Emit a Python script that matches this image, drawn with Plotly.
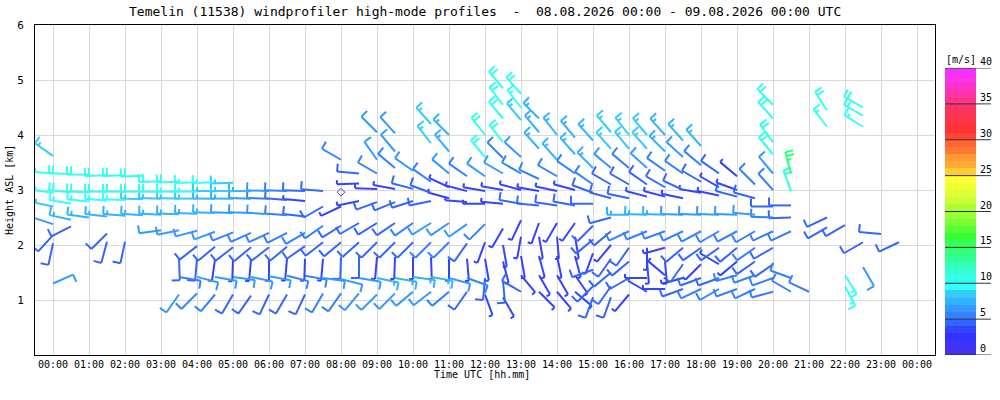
"""Temelin windprofiler high-mode profiles: wind barbs over time/height."""
import math
import plotly.graph_objects as go

TITLE = "Temelin (11538) windprofiler high-mode profiles  -  08.08.2026 00:00 - 09.08.2026 00:00 UTC"

HOUR_TICKS = list(range(25))
HOUR_LABELS = [f"{h % 24:02d}:00" for h in HOUR_TICKS]
HEIGHT_TICKS = [1, 2, 3, 4, 5, 6]
SPEED_TICKS = [0, 5, 10, 15, 20, 25, 30, 35, 40]

# profiles every 30 min: (height km ASL, direction deg, speed m/s)
P_0000 = [(3.62, 305, 8), (3.30, 275, 9), (2.95, 278, 9), (2.70, 282, 8), (2.38, 288, 6),
          (2.18, 222, 4), (2.03, 192, 4), (1.30, 66, 6)]
P_0030 = [(3.29, 272, 10), (2.96, 275, 10), (2.75, 280, 9), (2.46, 282, 7), (2.34, 243, 4)]
P_0100 = [(3.28, 270, 10), (2.96, 272, 10), (2.79, 276, 9), (2.50, 278, 7)]
P_0130 = [(3.27, 268, 10), (2.97, 270, 10), (2.81, 274, 9), (2.52, 276, 7), (2.21, 225, 4), (2.06, 195, 4)]
P_0200 = [(3.27, 268, 10), (2.97, 270, 10), (2.82, 272, 9), (2.53, 275, 7), (2.06, 192, 4)]
P_0230 = [(3.26, 268, 10), (2.97, 270, 10), (2.83, 272, 8), (2.54, 274, 7)]
P_0300 = [(3.16, 268, 10), (2.97, 270, 10), (2.84, 272, 8), (2.55, 273, 7), (2.27, 262, 6)]
P_0330 = [(3.15, 268, 10), (2.97, 270, 9), (2.84, 272, 8), (2.56, 272, 7), (2.27, 258, 6),
          (1.76, 178, 4), (1.42, 100, 5), (1.10, 215, 6)]
P_0400 = [(3.14, 268, 9), (2.97, 270, 9), (2.84, 271, 8), (2.57, 272, 7), (2.26, 255, 6),
          (1.98, 232, 4), (1.75, 185, 4), (1.42, 105, 6), (1.12, 225, 5)]
P_0430 = [(3.14, 268, 9), (2.98, 270, 8), (2.84, 271, 7), (2.58, 272, 7), (2.24, 250, 6),
          (1.97, 230, 4), (1.74, 188, 3), (1.42, 100, 6), (1.10, 220, 5)]
P_0500 = [(3.13, 268, 8), (2.98, 270, 8), (2.84, 271, 7), (2.58, 272, 6), (2.23, 248, 5),
          (1.96, 232, 4), (1.74, 182, 3), (1.42, 98, 6), (1.10, 210, 4)]
P_0530 = [(2.98, 270, 7), (2.84, 272, 6), (2.58, 272, 6), (2.22, 246, 5), (1.96, 230, 4),
          (1.74, 185, 3), (1.42, 102, 6), (1.08, 215, 4)]
P_0600 = [(2.98, 272, 6), (2.84, 272, 5), (2.56, 274, 6), (2.22, 245, 5), (1.96, 232, 4),
          (1.75, 180, 3), (1.43, 100, 6), (1.10, 205, 4)]
P_0630 = [(2.98, 272, 5), (2.82, 274, 4), (2.54, 275, 5), (2.22, 243, 5), (1.97, 230, 4),
          (1.75, 185, 3), (1.44, 104, 5), (1.10, 210, 4)]
P_0700 = [(2.98, 272, 4), (2.80, 275, 3), (2.52, 276, 4), (2.22, 240, 5), (1.98, 235, 4),
          (1.75, 182, 3), (1.44, 100, 5), (1.10, 205, 4)]
P_0730 = [(2.98, 275, 4), (2.70, 240, 4), (2.35, 235, 5), (2.05, 232, 4), (1.75, 185, 3),
          (1.40, 98, 6), (1.12, 210, 5)]
P_0800 = [(3.55, 300, 5), (2.70, 245, 3), (2.35, 238, 4), (2.05, 230, 4), (1.78, 182, 4),
          (1.38, 104, 6), (1.12, 215, 5)]
P_0830 = [(3.30, 275, 4), (3.12, 268, 3), (2.80, 258, 3), (2.40, 240, 4), (2.05, 228, 4),
          (1.80, 180, 4), (1.40, 100, 6), (1.12, 220, 6)]
P_0900 = [(4.05, 315, 6), (3.55, 325, 6), (3.30, 300, 5), (3.02, 272, 3), (2.78, 250, 4),
          (2.40, 238, 4), (2.05, 225, 4), (1.78, 185, 3), (1.40, 102, 7), (1.10, 225, 6)]
P_0930 = [(4.03, 318, 6), (3.70, 320, 6), (3.40, 310, 5), (3.02, 280, 3), (2.78, 248, 4),
          (2.40, 236, 4), (2.05, 225, 4), (1.78, 182, 3), (1.40, 100, 7), (1.12, 225, 6)]
P_1000 = [(3.35, 305, 6), (3.02, 285, 4), (2.80, 252, 4), (2.40, 235, 5), (2.05, 225, 4),
          (1.78, 180, 3), (1.42, 98, 7), (1.15, 230, 6)]
P_1030 = [(4.20, 318, 8), (3.85, 322, 8), (3.15, 305, 5), (2.95, 290, 4), (2.80, 258, 4),
          (2.40, 238, 6), (2.05, 225, 5), (1.78, 178, 3), (1.42, 100, 7), (1.15, 232, 6)]
P_1100 = [(4.00, 315, 7), (3.70, 320, 7), (3.30, 310, 6), (3.05, 295, 3), (2.85, 285, 3),
          (2.40, 236, 6), (2.05, 225, 5), (1.75, 180, 3), (1.40, 105, 6), (1.15, 230, 5)]
P_1130 = [(3.25, 305, 5), (2.98, 285, 3), (2.78, 275, 3), (2.38, 235, 6), (2.03, 215, 4),
          (1.75, 175, 3), (1.40, 110, 5), (1.15, 215, 4)]
P_1200 = [(4.00, 322, 10), (3.60, 320, 10), (3.25, 305, 6), (2.98, 280, 3), (2.75, 270, 3),
          (2.38, 225, 5), (2.05, 200, 3), (1.75, 170, 3), (1.40, 185, 4), (1.10, 160, 3)]
P_1230 = [(4.85, 320, 10), (4.55, 322, 10), (4.30, 320, 10), (3.87, 322, 10), (3.58, 315, 5),
          (3.30, 300, 6), (3.00, 280, 3), (2.75, 275, 3), (2.30, 210, 3), (2.00, 170, 3),
          (1.70, 165, 3), (1.35, 175, 4), (1.05, 150, 3)]
P_1300 = [(4.75, 318, 10), (4.50, 322, 9), (4.27, 320, 8), (3.60, 312, 6), (3.30, 300, 5),
          (3.00, 285, 3), (2.75, 280, 4), (2.45, 205, 3), (2.15, 190, 3), (1.80, 170, 3),
          (1.45, 140, 3), (1.15, 300, 4)]
P_1330 = [(4.30, 315, 7), (4.05, 320, 7), (3.75, 318, 7), (3.20, 295, 5), (2.98, 280, 3),
          (2.72, 275, 4), (2.40, 200, 3), (2.15, 170, 3), (1.80, 165, 3), (1.45, 150, 3),
          (1.15, 135, 3)]
P_1400 = [(4.00, 322, 7), (3.55, 318, 7), (3.25, 300, 5), (2.98, 282, 3), (2.72, 278, 4),
          (2.40, 210, 3), (2.15, 175, 3), (1.80, 168, 3), (1.45, 150, 3), (1.15, 140, 3)]
P_1430 = [(3.95, 320, 7), (3.65, 318, 7), (3.30, 305, 5), (3.00, 285, 3), (2.72, 280, 4),
          (2.40, 215, 3), (2.15, 170, 3), (1.80, 165, 3), (1.45, 145, 3), (1.15, 130, 3)]
P_1500 = [(3.90, 318, 7), (3.40, 315, 7), (3.10, 305, 5), (2.95, 290, 4), (2.75, 270, 4),
          (2.35, 225, 4), (2.10, 230, 4), (1.85, 200, 3), (1.55, 250, 4), (1.25, 225, 4),
          (1.05, 200, 4)]
P_1530 = [(4.05, 320, 8), (3.75, 318, 8), (3.40, 310, 6), (3.10, 300, 4), (2.85, 285, 4),
          (2.50, 255, 4), (2.25, 230, 4), (2.00, 220, 3), (1.75, 215, 4), (1.50, 230, 4),
          (1.25, 215, 4), (1.05, 200, 4)]
P_1600 = [(4.00, 322, 8), (3.75, 320, 8), (3.40, 310, 5), (3.10, 300, 4), (2.85, 282, 4),
          (2.55, 270, 7), (2.25, 245, 5), (1.95, 215, 4), (1.70, 230, 4), (1.40, 240, 4),
          (1.10, 220, 3)]
P_1630 = [(4.00, 320, 8), (3.75, 318, 8), (3.40, 312, 6), (3.10, 305, 4), (2.88, 285, 3),
          (2.55, 272, 7), (2.25, 248, 5), (1.95, 180, 3), (1.70, 175, 3), (1.40, 270, 3),
          (1.15, 300, 3)]
P_1700 = [(4.00, 318, 7), (3.70, 315, 7), (3.35, 305, 5), (3.05, 300, 4), (2.88, 285, 3),
          (2.55, 272, 7), (2.25, 250, 5), (1.95, 255, 3), (1.70, 175, 3), (1.45, 310, 3),
          (1.20, 270, 3)]
P_1730 = [(3.90, 318, 7), (3.60, 312, 6), (3.30, 305, 5), (3.00, 295, 4), (2.85, 282, 3),
          (2.55, 272, 6), (2.25, 245, 5), (1.95, 230, 4), (1.65, 215, 4), (1.40, 255, 3),
          (1.20, 250, 4)]
P_1800 = [(3.80, 318, 7), (3.45, 310, 5), (3.15, 300, 4), (2.95, 280, 3), (2.55, 272, 6),
          (2.25, 242, 5), (1.95, 235, 4), (1.65, 225, 3), (1.40, 250, 4), (1.20, 245, 5)]
P_1830 = [(3.30, 305, 4), (3.05, 300, 3), (2.90, 282, 3), (2.55, 272, 6), (2.25, 240, 5),
          (1.95, 235, 4), (1.65, 300, 3), (1.40, 250, 4), (1.20, 240, 5)]
P_1900 = [(3.25, 310, 3), (3.00, 290, 3), (2.88, 285, 4), (2.55, 272, 6), (2.25, 242, 5),
          (1.95, 230, 4), (1.70, 230, 3), (1.45, 255, 5), (1.20, 250, 5)]
P_1930 = [(3.10, 315, 5), (2.85, 285, 4), (2.55, 275, 6), (2.25, 240, 5), (1.95, 235, 5),
          (1.70, 235, 4), (1.45, 250, 5), (1.20, 245, 5)]
P_2000 = [(4.55, 315, 10), (4.30, 318, 10), (3.87, 324, 10), (3.65, 320, 10), (3.30, 320, 6),
          (3.00, 318, 5), (2.70, 270, 4), (2.50, 272, 5), (2.25, 245, 5), (1.95, 240, 4),
          (1.65, 235, 4), (1.40, 250, 5), (1.15, 255, 5)]
P_2030 = [(3.30, 345, 14), (2.98, 340, 11), (2.72, 270, 4), (2.50, 268, 4), (2.25, 245, 5),
          (1.40, 290, 5), (1.15, 300, 5)]
P_2100 = [(1.15, 295, 5)]
P_2130 = [(4.45, 327, 10), (4.15, 322, 9), (2.50, 245, 4), (2.32, 240, 4)]
P_2200 = [(2.36, 240, 4), (1.45, 148, 9), (1.25, 152, 9)]
P_2230 = [(4.50, 300, 10), (4.35, 300, 10), (4.15, 302, 9), (2.05, 240, 4), (1.60, 150, 6)]
P_2300 = [(2.20, 275, 4)]
P_2330 = [(2.05, 245, 4)]

PROFILE_TIMES = [0.0, 0.5, 1.0, 1.5, 2.0, 2.5, 3.0, 3.5, 4.0, 4.5, 5.0, 5.5,
                 6.0, 6.5, 7.0, 7.5, 8.0, 8.5, 9.0, 9.5, 10.0, 10.5, 11.0, 11.5,
                 12.0, 12.5, 13.0, 13.5, 14.0, 14.5, 15.0, 15.5, 16.0, 16.5, 17.0, 17.5,
                 18.0, 18.5, 19.0, 19.5, 20.0, 20.5, 21.0, 21.5, 22.0, 22.5, 23.0, 23.5]
PROFILES = [P_0000, P_0030, P_0100, P_0130, P_0200, P_0230, P_0300, P_0330,
            P_0400, P_0430, P_0500, P_0530, P_0600, P_0630, P_0700, P_0730,
            P_0800, P_0830, P_0900, P_0930, P_1000, P_1030, P_1100, P_1130,
            P_1200, P_1230, P_1300, P_1330, P_1400, P_1430, P_1500, P_1530,
            P_1600, P_1630, P_1700, P_1730, P_1800, P_1830, P_1900, P_1930,
            P_2000, P_2030, P_2100, P_2130, P_2200, P_2230, P_2300, P_2330]

# calm (no barb) observations
CALM_TIMES = [8.0]
CALM_HEIGHTS = [2.96]

# 1 m/s colour steps, 0..40
SPEED_COLORS = ['#4433ee', '#3b33f7', '#3333ff', '#3344ff', '#3366ff',
                '#3380ff', '#3399ff', '#33b3ff', '#33ccff', '#33ffff',
                '#33ffee', '#33ffdd', '#33ffbb', '#33ff99', '#33ff77',
                '#33ff55', '#33ff33', '#55ff33', '#77ff33', '#99ff33',
                '#aaff33', '#ccff33', '#ddff33', '#eeff33', '#ffff33',
                '#ffcc33', '#ffaa33', '#ff9933', '#ff7733', '#ff6633',
                '#ff4433', '#ff3333', '#ff3344', '#ff3355', '#ff3366',
                '#ff3388', '#ff33aa', '#ff33cc', '#ff33ee', '#ee33ff']

FONT = 'DejaVu Sans Mono'
GRID = '#d8d8d8'

# geometry (pixels)
M_L, M_R, M_T, M_B = 35, 24, 25, 45
PLOT_W, PLOT_H = 900, 330
X_RANGE = [-0.5, 24.5]
Y_RANGE = [0, 6]
PX_X = PLOT_W / (X_RANGE[1] - X_RANGE[0])
PX_Y = PLOT_H / (Y_RANGE[1] - Y_RANGE[0])
PAPER_W = 1000 - M_L - M_R
STAFF, FEATHER, GAP = 22.0, 8.0, 4.0


def barb_segments(t, h, direction, speed):
    a = math.radians(direction)
    ux, uy = math.sin(a), math.cos(a)
    fx, fy = uy, -ux  # feathers on the clockwise side

    def pt(along, side=0.0):
        return (t + (ux * along + fx * side) / PX_X,
                h + (uy * along + fy * side) / PX_Y)

    segs = [(pt(0), pt(STAFF))]
    knots = int(math.floor(speed * 1.94384 / 5.0 + 0.5)) * 5
    full, rest = divmod(knots, 10)
    pos = STAFF
    for _ in range(full):
        segs.append((pt(pos), pt(pos, FEATHER)))
        pos -= GAP
    if rest >= 5:
        segs.append((pt(pos), pt(pos, FEATHER / 2)))
    return segs


lines = {}
for t, prof in zip(PROFILE_TIMES, PROFILES):
    for h, d, s in prof:
        ci = min(int(s), len(SPEED_COLORS) - 1)
        xs, ys = lines.setdefault(ci, ([], []))
        for (x0, y0), (x1, y1) in barb_segments(t, h, d, s):
            xs += [x0, x1, None]
            ys += [y0, y1, None]

fig = go.Figure()
for ci in sorted(lines):
    xs, ys = lines[ci]
    fig.add_trace(go.Scatter(x=xs, y=ys, mode='lines', hoverinfo='skip',
                             line=dict(color=SPEED_COLORS[ci], width=2), showlegend=False))

fig.add_trace(go.Scatter(x=CALM_TIMES, y=CALM_HEIGHTS, mode='markers', hoverinfo='skip',
                         marker=dict(symbol='diamond-open', size=6, color='#4433ee',
                                     line=dict(width=1)), showlegend=False))

# colour scale as its own little heatmap
n = len(SPEED_COLORS)
cscale = []
for i, c in enumerate(SPEED_COLORS):
    cscale += [[i / n, c], [(i + 1) / n, c]]
fig.add_trace(go.Heatmap(x=[0.5], y=[i + 0.5 for i in range(n)], z=[[i] for i in range(n)],
                         colorscale=cscale, zmin=-0.5, zmax=n - 0.5, showscale=False,
                         hoverinfo='skip', xaxis='x2', yaxis='y2'))

for v in SPEED_TICKS:
    fig.add_shape(type='line', xref='x2 domain', yref='y2', x0=0, x1=1.48, y0=v, y1=v,
                  line=dict(color='#333333', width=1))
    fig.add_annotation(xref='x2 domain', yref='y2', x=1.08, y=v, text=str(v), showarrow=False,
                       xanchor='left', yanchor='bottom', yshift=-1,
                       font=dict(family=FONT, size=10, color='black'))
fig.add_annotation(xref='x2 domain', yref='y2 domain', x=0.5, y=1, text='[m/s]', showarrow=False,
                   xanchor='center', yanchor='bottom', yshift=1,
                   font=dict(family=FONT, size=10, color='black'))

fig.add_annotation(xref='x domain', yref='paper', x=0.5, y=1, text=TITLE, showarrow=False,
                   xanchor='center', yanchor='bottom', yshift=4,
                   font=dict(family=FONT, size=13, color='black'))
fig.add_annotation(xref='x domain', yref='paper', x=0.497, y=-0.06, text='Time UTC [hh.mm]',
                   showarrow=False, xanchor='center', yanchor='middle',
                   font=dict(family=FONT, size=10, color='black'))
fig.add_annotation(xref='paper', yref='y domain', x=(9 - M_L) / PAPER_W, y=0.5,
                   text='Height ASL [km]', textangle=-90, showarrow=False,
                   xanchor='center', yanchor='middle',
                   font=dict(family=FONT, size=10, color='black'))

fig.update_layout(
    width=1000, height=400,
    margin=dict(l=M_L, r=M_R, t=M_T, b=M_B, autoexpand=False),
    paper_bgcolor='white', plot_bgcolor='white',
    hovermode=False,
    font=dict(family=FONT, size=10, color='black'),
    xaxis=dict(domain=[0, PLOT_W / PAPER_W], range=X_RANGE, tickvals=HOUR_TICKS,
               ticktext=HOUR_LABELS, showgrid=True, gridcolor=GRID, gridwidth=1,
               zeroline=False, showline=True, linecolor='black', linewidth=1, mirror=True,
               ticks='', tickfont=dict(family=FONT, size=10)),
    yaxis=dict(range=Y_RANGE, tickvals=HEIGHT_TICKS, showgrid=True, gridcolor=GRID,
               gridwidth=1, zeroline=False, showline=True, linecolor='black', linewidth=1,
               mirror=True, ticks='outside', ticklen=8, tickcolor='rgba(0,0,0,0)',
               tickfont=dict(family=FONT, size=11)),
    xaxis2=dict(domain=[(945 - M_L) / PAPER_W, (976 - M_L) / PAPER_W], range=[0, 1],
                visible=False, anchor='y2'),
    yaxis2=dict(domain=[0, (355 - 68) / PLOT_H], range=[0, 40], visible=False, anchor='x2'),
)

# drop the browser's default page margin so the figure sits at the window origin
fig.write_html("out.html", config={'displayModeBar': False},
               post_script="document.body.style.margin='0';")
